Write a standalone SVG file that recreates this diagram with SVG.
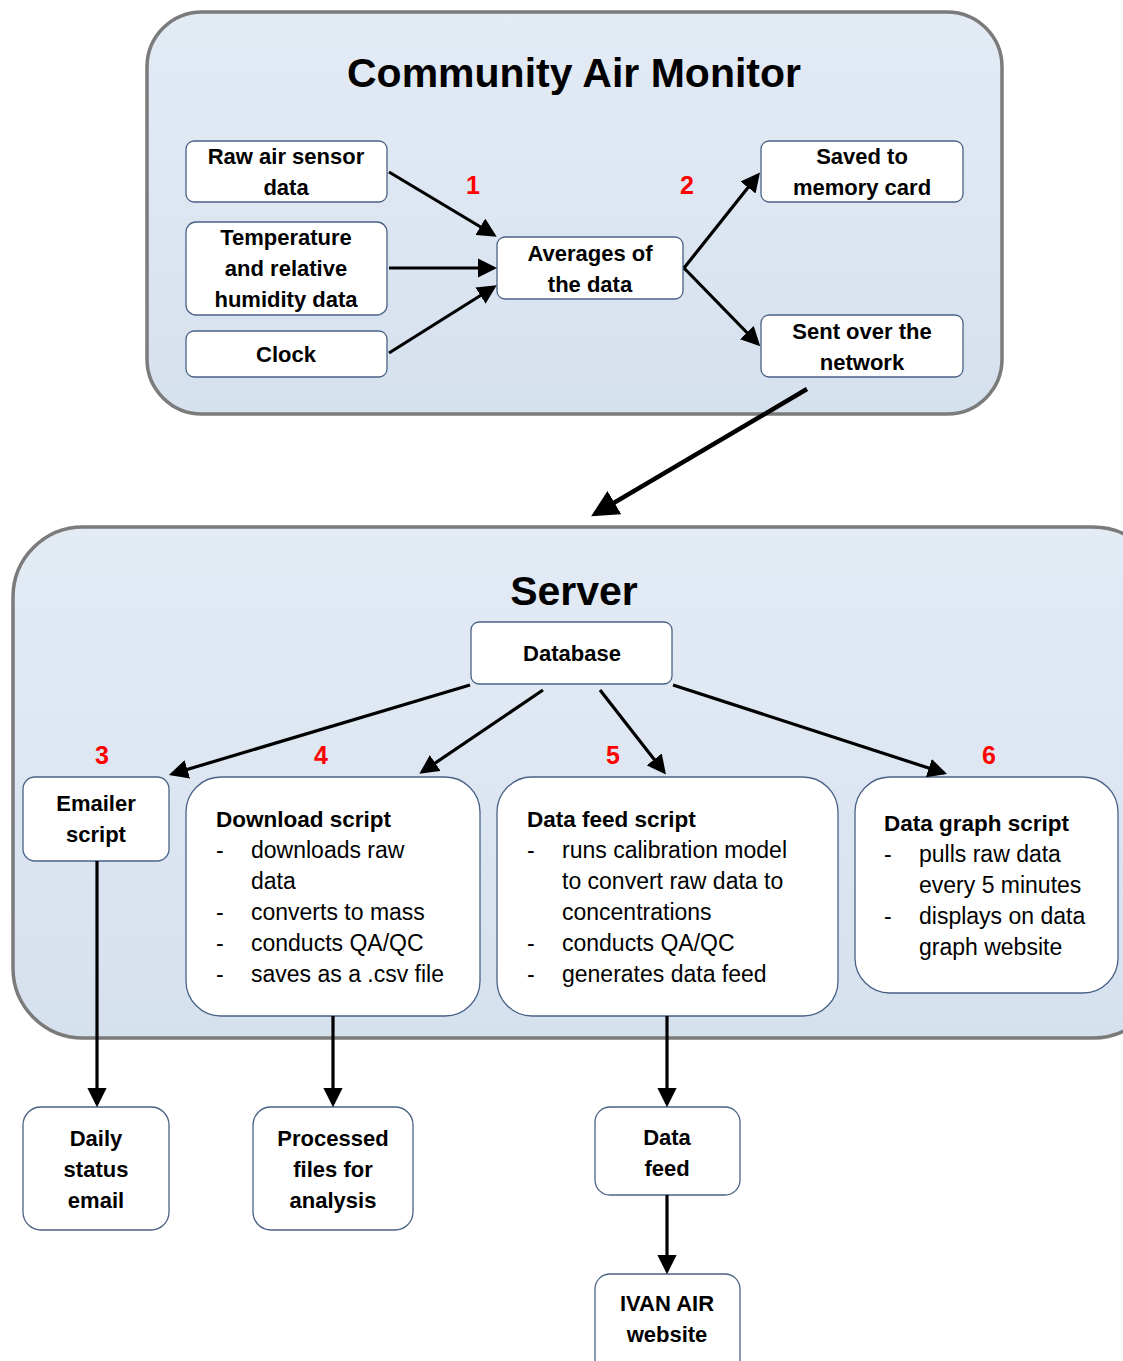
<svg xmlns="http://www.w3.org/2000/svg" width="1123" height="1361" viewBox="0 0 1123 1361">
<defs>
<marker id="ah" markerWidth="6" markerHeight="6" refX="5" refY="3" orient="auto" markerUnits="strokeWidth">
<path d="M0,0 L6,3 L0,6 z" fill="#000"/>
</marker>
<linearGradient id="bg" x1="0" y1="0" x2="0" y2="1">
<stop offset="0" stop-color="#e3ebf5"/>
<stop offset="1" stop-color="#d6e1ee"/>
</linearGradient>
</defs>
<style>
.cont{fill:url(#bg);stroke:#7b7b7b;stroke-width:3.5}
.box{fill:#fff;stroke:#4a6285;stroke-width:1.3}
.t{font-family:"Liberation Sans",Arial,sans-serif;font-weight:bold;font-size:22px;fill:#000;text-anchor:middle}
.h{font-family:"Liberation Sans",Arial,sans-serif;font-weight:bold;font-size:41px;fill:#000;text-anchor:middle}
.n{font-family:"Liberation Sans",Arial,sans-serif;font-weight:bold;font-size:25px;fill:#ff0000;text-anchor:middle}
.b{font-family:"Liberation Sans",Arial,sans-serif;font-weight:bold;font-size:22.5px;fill:#000}
.r{font-family:"Liberation Sans",Arial,sans-serif;font-size:23px;fill:#000}
.c{stroke:#000;stroke-width:3.2;fill:none;marker-end:url(#ah)}
.cb{stroke-width:4.5}
</style>
<rect width="1123" height="1361" fill="#fff"/>

<g id="community-air-monitor">
<rect class="cont" x="147" y="12" width="855" height="402" rx="55"/>
<text class="h" x="574" y="87">Community Air Monitor</text>
</g>
<g id="server">
<rect class="cont" x="13" y="527" width="1150" height="511" rx="70"/>
<text class="h" x="574" y="605">Server</text>
</g>

<g id="raw-air-sensor-data">
<rect class="box" x="186" y="141" width="201" height="61" rx="8"/>
<text class="t" x="286" y="164">Raw air sensor</text>
<text class="t" x="286" y="195">data</text>
</g>
<g id="temperature-humidity">
<rect class="box" x="186" y="222" width="201" height="93" rx="10"/>
<text class="t" x="286" y="245">Temperature</text>
<text class="t" x="286" y="276">and relative</text>
<text class="t" x="286" y="307">humidity data</text>
</g>
<g id="clock">
<rect class="box" x="186" y="331" width="201" height="46" rx="8"/>
<text class="t" x="286" y="362">Clock</text>
</g>
<g id="averages">
<rect class="box" x="497" y="237" width="186" height="62" rx="8"/>
<text class="t" x="590" y="261">Averages of</text>
<text class="t" x="590" y="292">the data</text>
</g>
<g id="saved-memory-card">
<rect class="box" x="761" y="141" width="202" height="61" rx="8"/>
<text class="t" x="862" y="164">Saved to</text>
<text class="t" x="862" y="195">memory card</text>
</g>
<g id="sent-network">
<rect class="box" x="761" y="315" width="202" height="62" rx="8"/>
<text class="t" x="862" y="339">Sent over the</text>
<text class="t" x="862" y="370">network</text>
</g>

<g id="database">
<rect class="box" x="471" y="622" width="201" height="62" rx="8"/>
<text class="t" x="572" y="661">Database</text>
</g>
<g id="emailer-script">
<rect class="box" x="23" y="777" width="146" height="84" rx="12"/>
<text class="t" x="96" y="811">Emailer</text>
<text class="t" x="96" y="842">script</text>
</g>
<g id="download-script">
<rect class="box" x="186" y="777" width="294" height="239" rx="35"/>
<text class="b" x="216" y="827">Download script</text>
<text class="r" x="216" y="858">-</text><text class="r" x="251" y="858">downloads raw</text>
<text class="r" x="251" y="889">data</text>
<text class="r" x="216" y="920">-</text><text class="r" x="251" y="920">converts to mass</text>
<text class="r" x="216" y="951">-</text><text class="r" x="251" y="951">conducts QA/QC</text>
<text class="r" x="216" y="982">-</text><text class="r" x="251" y="982">saves as a .csv file</text>
</g>
<g id="data-feed-script">
<rect class="box" x="497" y="777" width="341" height="239" rx="35"/>
<text class="b" x="527" y="827">Data feed script</text>
<text class="r" x="527" y="858">-</text><text class="r" x="562" y="858">runs calibration model</text>
<text class="r" x="562" y="889">to convert raw data to</text>
<text class="r" x="562" y="920">concentrations</text>
<text class="r" x="527" y="951">-</text><text class="r" x="562" y="951">conducts QA/QC</text>
<text class="r" x="527" y="982">-</text><text class="r" x="562" y="982">generates data feed</text>
</g>
<g id="data-graph-script">
<rect class="box" x="855" y="777" width="263" height="216" rx="35"/>
<text class="b" x="884" y="831">Data graph script</text>
<text class="r" x="884" y="862">-</text><text class="r" x="919" y="862">pulls raw data</text>
<text class="r" x="919" y="893">every 5 minutes</text>
<text class="r" x="884" y="924">-</text><text class="r" x="919" y="924">displays on data</text>
<text class="r" x="919" y="955">graph website</text>
</g>

<g id="daily-status-email">
<rect class="box" x="23" y="1107" width="146" height="123" rx="18"/>
<text class="t" x="96" y="1146">Daily</text>
<text class="t" x="96" y="1177">status</text>
<text class="t" x="96" y="1208">email</text>
</g>
<g id="processed-files">
<rect class="box" x="253" y="1107" width="160" height="123" rx="18"/>
<text class="t" x="333" y="1146">Processed</text>
<text class="t" x="333" y="1177">files for</text>
<text class="t" x="333" y="1208">analysis</text>
</g>
<g id="data-feed">
<rect class="box" x="595" y="1107" width="145" height="88" rx="15"/>
<text class="t" x="667" y="1145">Data</text>
<text class="t" x="667" y="1176">feed</text>
</g>
<g id="ivan-air-website">
<rect class="box" x="595" y="1274" width="145" height="100" rx="15"/>
<text class="t" x="667" y="1311">IVAN AIR</text>
<text class="t" x="667" y="1342">website</text>
</g>

<g id="labels">
<text class="n" x="473" y="194">1</text>
<text class="n" x="687" y="194">2</text>
<text class="n" x="102" y="764">3</text>
<text class="n" x="321" y="764">4</text>
<text class="n" x="613" y="764">5</text>
<text class="n" x="989" y="764">6</text>
</g>

<g id="connectors">
<line class="c" x1="389" y1="172" x2="494" y2="235"/>
<line class="c" x1="389" y1="268" x2="494" y2="268"/>
<line class="c" x1="389" y1="353" x2="494" y2="287"/>
<line class="c" x1="684" y1="268" x2="758" y2="175"/>
<line class="c" x1="684" y1="268" x2="758" y2="344"/>
<line class="c cb" x1="807" y1="389" x2="595" y2="514"/>
<line class="c" x1="470" y1="685" x2="172" y2="774"/>
<line class="c" x1="543" y1="690" x2="422" y2="772"/>
<line class="c" x1="600" y1="690" x2="664" y2="772"/>
<line class="c" x1="673" y1="685" x2="944" y2="773"/>
<line class="c" x1="97" y1="861" x2="97" y2="1104"/>
<line class="c" x1="333" y1="1016" x2="333" y2="1104"/>
<line class="c" x1="667" y1="1016" x2="667" y2="1104"/>
<line class="c" x1="667" y1="1195" x2="667" y2="1271"/>
</g>
</svg>
